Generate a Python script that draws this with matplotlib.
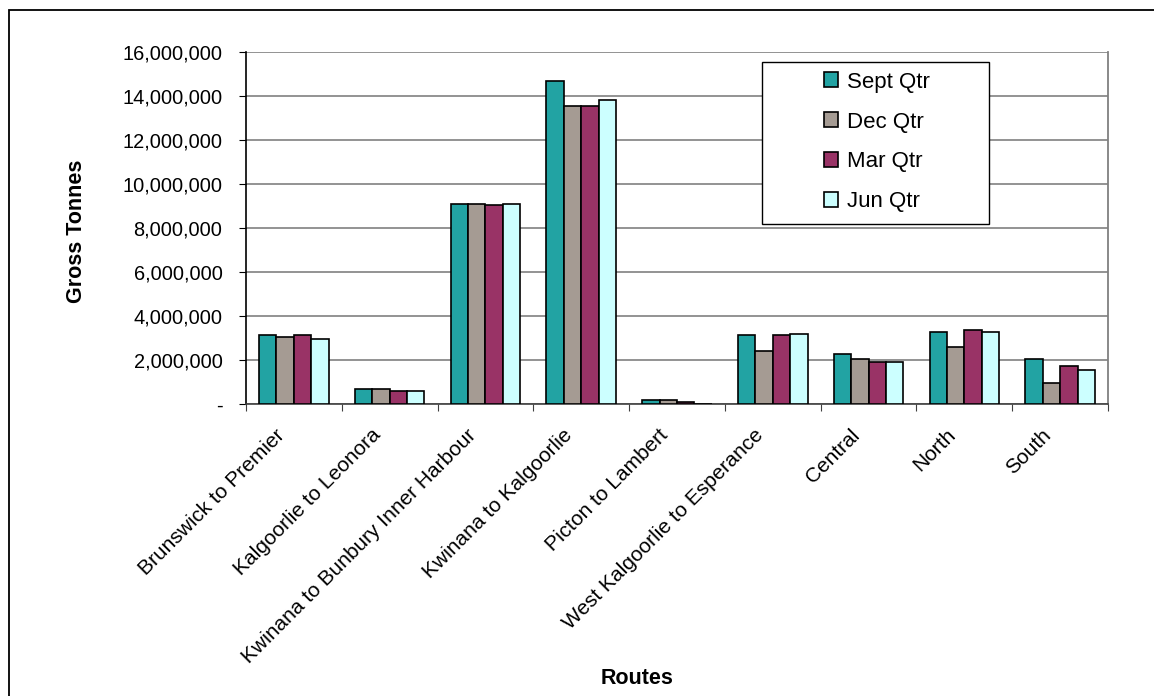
import numpy as np
import matplotlib.pyplot as plt
import matplotlib.transforms as mtransforms
from matplotlib.patches import Rectangle
from matplotlib.ticker import FuncFormatter, FixedLocator

plt.rcParams['font.family'] = ['Liberation Sans', 'DejaVu Sans']

routes = ['Brunswick to Premier', 'Kalgoorlie to Leonora',
          'Kwinana to Bunbury Inner Harbour', 'Kwinana to Kalgoorlie',
          'Picton to Lambert', 'West Kalgoorlie to Esperance',
          'Central', 'North', 'South']
quarters = ['Sept Qtr', 'Dec Qtr', 'Mar Qtr', 'Jun Qtr']

sept_qtr = [3120000, 670000, 9110000, 14670000, 170000, 3120000, 2260000, 3290000, 2060000]
dec_qtr = [3030000, 670000, 9110000, 13530000, 170000, 2420000, 2060000, 2610000, 950000]
mar_qtr = [3120000, 590000, 9030000, 13530000, 80000, 3120000, 1890000, 3380000, 1730000]
jun_qtr = [2940000, 590000, 9110000, 13800000, 20000, 3200000, 1890000, 3290000, 1550000]

colors = ['#22A3A3', '#A59B93', '#993366', '#CCFFFF']

W, H = 1154, 696
fig = plt.figure(figsize=(W / 100, H / 100), dpi=100)

# outer chart frame (only left and top edges fall inside the image)
fig.patches.append(Rectangle((9 / W, -0.5), 1.5, 1.5 - 10 / H, transform=fig.transFigure,
                             fill=False, edgecolor='black', linewidth=1.3))

ax = fig.add_axes([246 / W, 1 - 404 / H, (1108 - 246) / W, (404 - 52) / H])

x = np.arange(len(routes))
bw = 1 / 5.5
series = [sept_qtr, dec_qtr, mar_qtr, jun_qtr]
bars = []
for i, (vals, c) in enumerate(zip(series, colors)):
    b = ax.bar(x + (i - 1.5) * bw, vals, width=bw, color=c, edgecolor='black',
               linewidth=1.2, zorder=3, label=quarters[i])
    bars.append(b)

ax.set_xlim(-0.5, len(routes) - 0.5)
ax.set_ylim(0, 16000000)
ax.set_yticks(np.arange(0, 16000001, 2000000))
ax.yaxis.set_major_formatter(FuncFormatter(lambda v, p: '-' if v == 0 else f'{v:,.0f}'))
ax.yaxis.grid(True, color='#808080', linewidth=1.2, zorder=0)
ax.tick_params(axis='y', labelsize=14.4, length=5, color='black', pad=12)

# ticks between categories, labels drawn separately
ax.xaxis.set_major_locator(FixedLocator(np.arange(-0.5, len(routes), 1)))
ax.set_xticklabels([])
ax.tick_params(axis='x', which='major', length=5, color='#404040')
lbl_trans = mtransforms.offset_copy(ax.get_xaxis_transform(), fig=fig,
                                    x=-12, y=-28, units='dots')
for xi, name in zip(x, routes):
    ax.text(xi, 0, name, transform=lbl_trans, rotation=45, ha='right', va='center',
            rotation_mode='anchor', fontsize=15)

ax.spines['top'].set_visible(False)
ax.spines['right'].set_color('#808080')
ax.spines['right'].set_linewidth(1.3)
ax.spines['left'].set_color('black')
ax.spines['left'].set_linewidth(1.2)
ax.spines['bottom'].set_color('#404040')
ax.spines['bottom'].set_linewidth(1.2)

# legend box
fig.patches.append(Rectangle((762 / W, 1 - 224 / H), (989 - 762) / W, (224 - 62) / H,
                             transform=fig.transFigure, facecolor='white',
                             edgecolor='black', linewidth=1.0, zorder=5))
leg = fig.legend(handles=bars, labels=quarters, loc='center',
                 bbox_to_anchor=(877 / W, 1 - 142 / H), frameon=False,
                 fontsize=16, handlelength=0.65, handleheight=0.65,
                 handletextpad=0.4, labelspacing=0.85)
leg.set_zorder(6)

fig.text(76 / W, 1 - 231 / H, 'Gross Tonnes', rotation=90, ha='center', va='center',
         fontsize=15.5, fontweight='bold')
fig.text(637 / W, 1 - 679 / H, 'Routes', ha='center', va='center',
         fontsize=15.5, fontweight='bold')

fig.savefig('out.png', dpi=100)
